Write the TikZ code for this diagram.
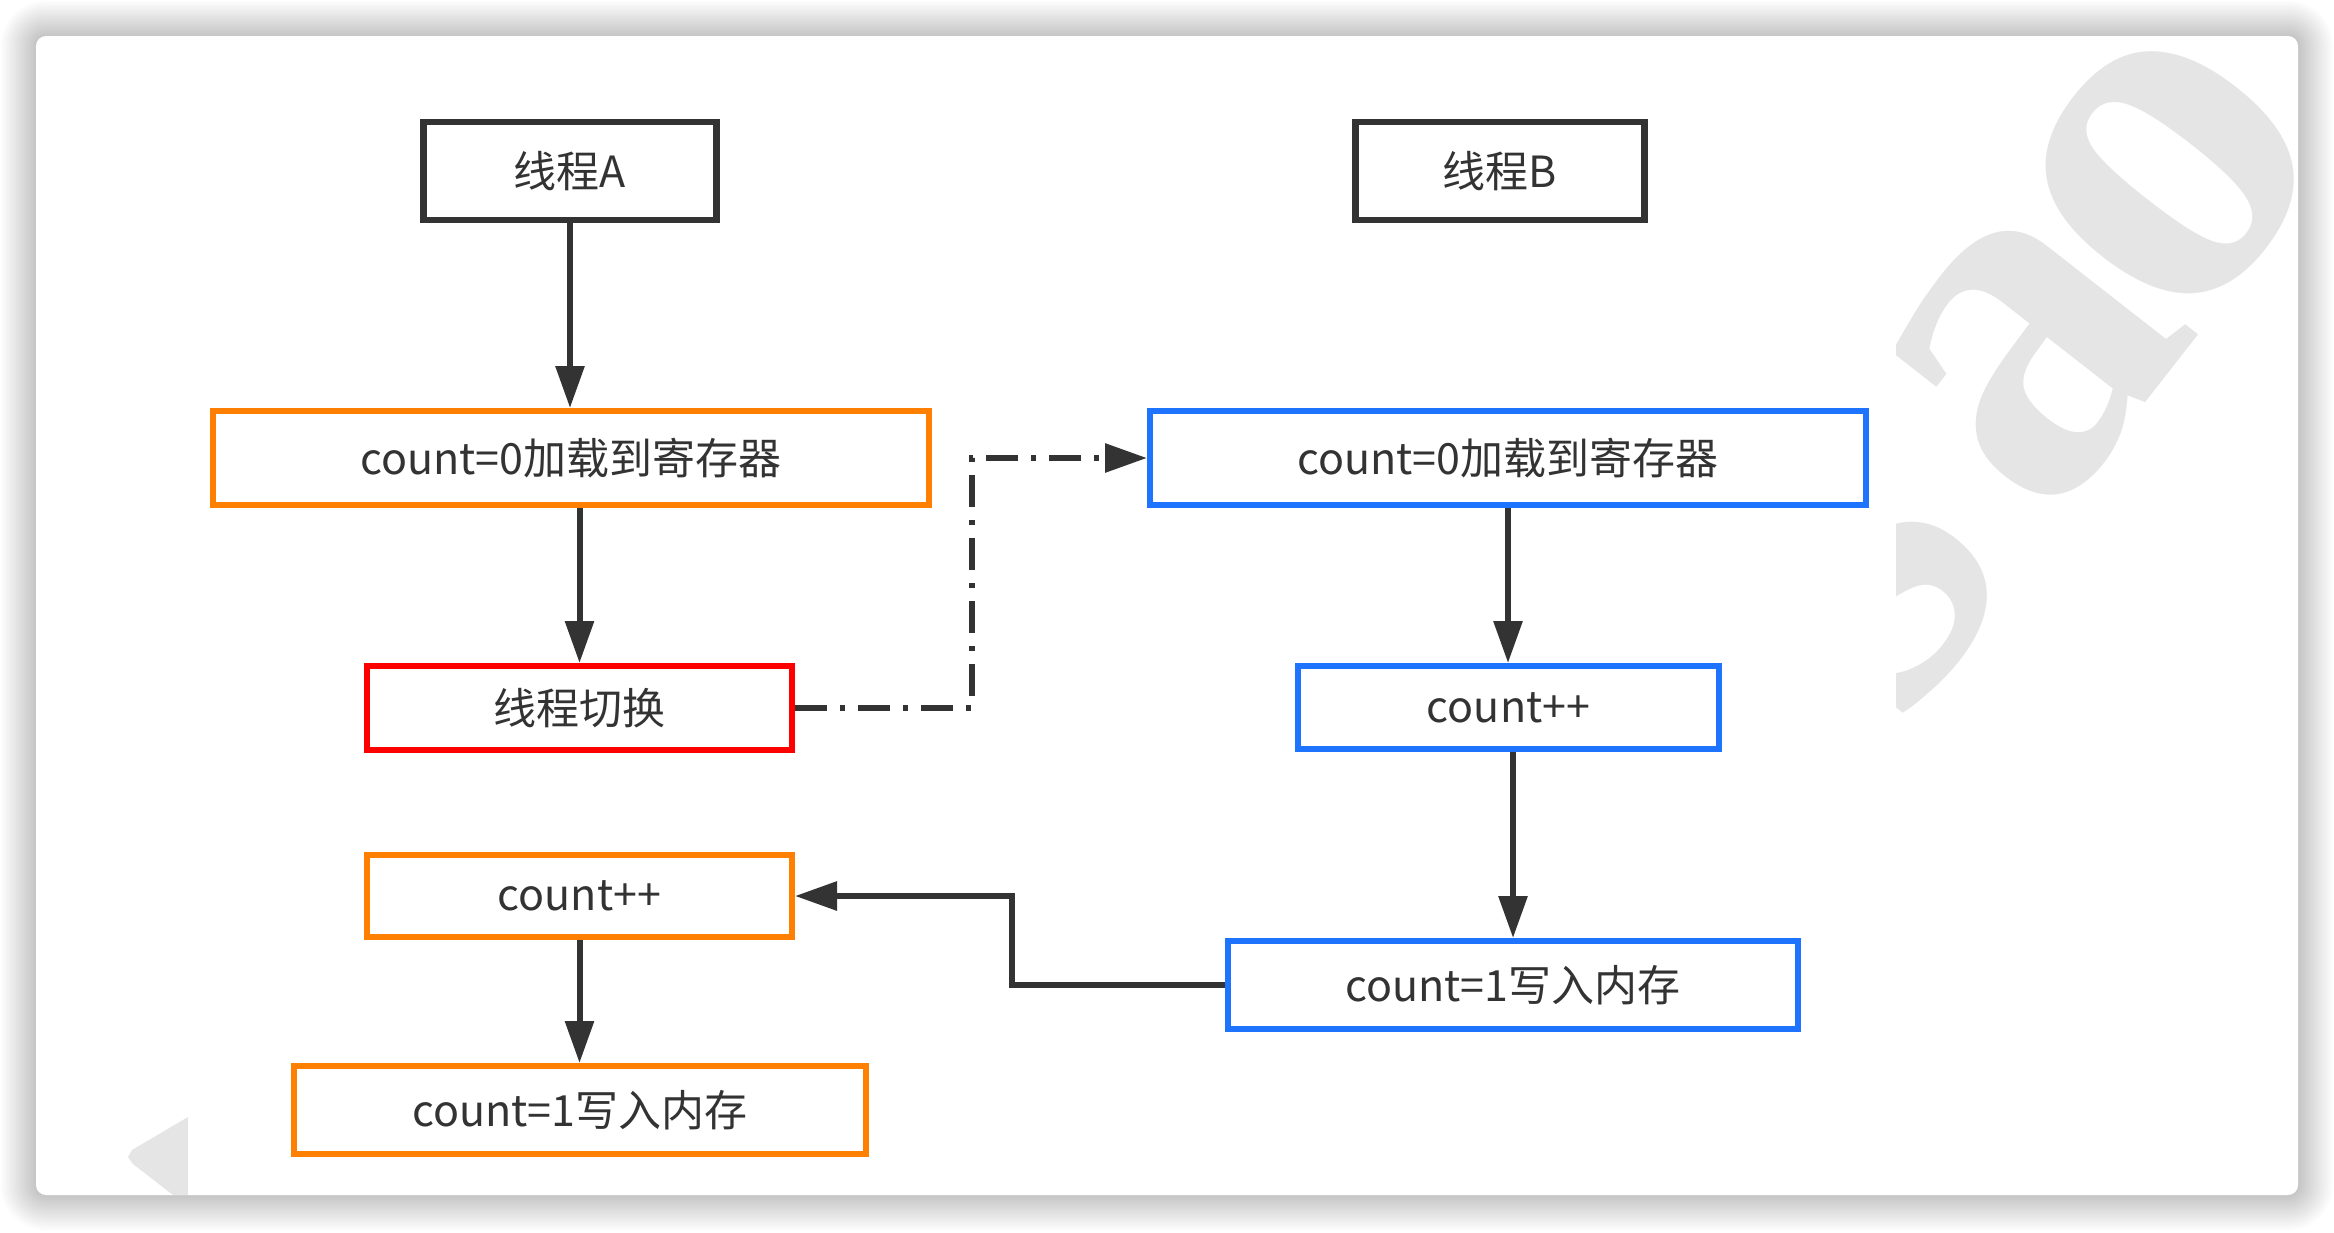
\documentclass[tikz,border=0pt]{standalone}
\usepackage{fontspec}
\setmainfont{Noto Sans CJK SC}
\newfontfamily\wmfont{Liberation Serif}
\usetikzlibrary{arrows.meta}

\definecolor{ink}{HTML}{333333}
\definecolor{orng}{HTML}{FF8000}
\definecolor{redb}{HTML}{FF0000}
\definecolor{blueb}{HTML}{1E74FF}
\definecolor{wm}{HTML}{E5E5E5}

\tikzset{
  box/.style 2 args={draw, line width=1.8mm, fill=white, inner sep=0pt,
    minimum width=#1*0.3mm, minimum height=#2*0.3mm, text=ink,
    font=\fontsize{36.7}{44}\selectfont},
  flow/.style={draw=ink, line width=1.8mm,
    -{Triangle[length=12.6mm,width=8.4mm]}},
  jump/.style={flow, dash pattern=on 9.6mm off 3.9mm on 1.5mm off 3.9mm},
  wmletter/.style={text=wm, inner sep=0pt, rotate=52,
    font=\wmfont\bfseries\fontsize{435}{435}\selectfont},
}

\begin{document}
\begin{tikzpicture}[x=0.3mm,y=-0.3mm]
  % page and frame
  \fill[white] (0,0) rectangle (2334,1232);
  \useasboundingbox (0,0) rectangle (2334,1232);
  \foreach \i in {1,...,14}{
    \fill[black, opacity=0.016, rounded corners={(10+2.5*\i)*0.3mm}]
      ({36-2.5*\i},{36-2.5*\i}) rectangle ({2298+2.5*\i},{1195+2.5*\i});
  }
  \fill[white, rounded corners=3mm] (36,36) rectangle (2298,1195);

  % background lettering
  \begin{scope}
    \clip[rounded corners=3mm] (36,36) rectangle (2298,1195);
    \node[wmletter] (wms) at (1868,580) {s};
    \node[wmletter] (wma) at (2033,357) {a};
    \node[wmletter] (wmo) at (2170,173) {o};
    \fill[wm] (188,1117) -- (132,1150) -- (128,1157) -- (133,1164)
      -- (173,1195) -- (188,1195) -- cycle;
  \end{scope}
  \fill[white] (188,36) rectangle (1896,1195);

  % thread A
  \node[box={293}{98}, draw=ink, line width=1.95mm] (a1) at (570,171) {线程A};
  \node[box={716}{94}, draw=orng] (a2) at (571,458) {count=0加载到寄存器};
  \node[box={425}{84}, draw=redb] (sw) at (579.5,708) {线程切换};
  \node[box={425}{82}, draw=orng] (a4) at (579.5,896) {count++};
  \node[box={572}{88}, draw=orng] (a5) at (580,1110) {count=1写入内存};

  % thread B
  \node[box={289}{98}, draw=ink, line width=1.95mm] (b1) at (1500,171) {线程B};
  \node[box={716}{94}, draw=blueb] (b2) at (1508,458) {count=0加载到寄存器};
  \node[box={421}{83}, draw=blueb] (b3) at (1508.5,707.5) {count++};
  \node[box={570}{88}, draw=blueb] (b4) at (1513,985) {count=1写入内存};

  % connectors
  \draw[flow] (a1.south) -- (a1.south |- a2.north);
  \draw[flow] (a2.south -| sw.north) -- (sw.north);
  \draw[flow] (a4.south) -- (a4.south |- a5.north);
  \draw[flow] (b2.south) -- (b2.south |- b3.north);
  \draw[flow] (b3.south -| b4.north) -- (b4.north);
  \draw[jump] (sw.east) -- ++(177,0) |- (b2.west);
  \draw[flow] (b4.west) -- ++(-213,0) |- (a4.east);
\end{tikzpicture}
\end{document}
